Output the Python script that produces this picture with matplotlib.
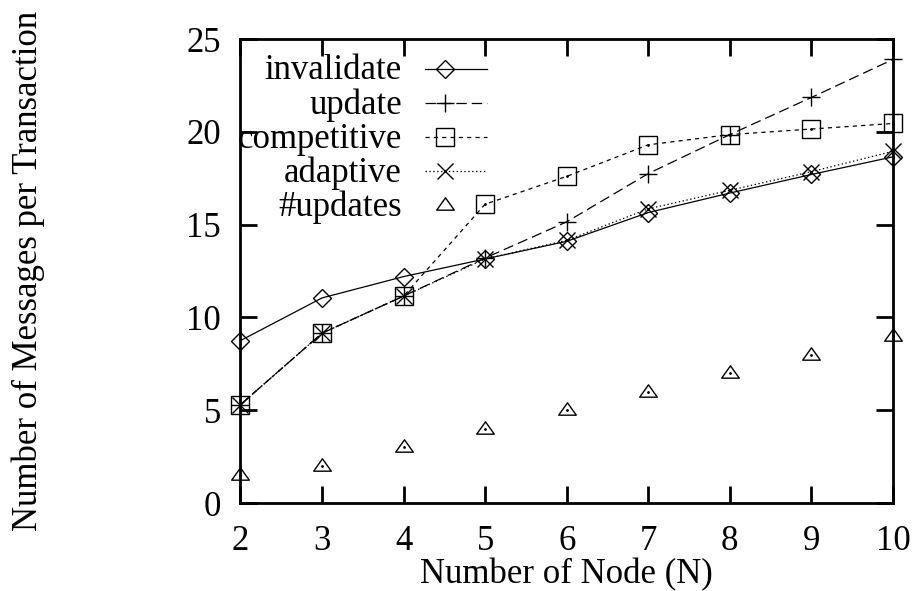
import matplotlib
matplotlib.use("Agg")
import matplotlib.pyplot as plt
from matplotlib.path import Path

# Number of nodes
nodes = [2, 3, 4, 5, 6, 7, 8, 9, 10]

# Messages per transaction for each protocol
invalidate = [8.75, 11.05, 12.2, 13.15, 14.1, 15.65, 16.7, 17.7, 18.65]
update = [5.3, 9.15, 11.15, 13.2, 15.15, 17.75, 19.85, 21.85, 23.9]
competitive = [5.3, 9.15, 11.15, 16.1, 17.6, 19.3, 19.85, 20.15, 20.45]
adaptive = [5.3, 9.15, 11.15, 13.15, 14.15, 15.85, 16.85, 17.85, 18.95]
num_updates = [1.5, 2, 3, 4, 5, 6, 7, 8, 9]

series_labels = ["invalidate", "update", "competitive", "adaptive", "#updates"]
xticks = [2, 3, 4, 5, 6, 7, 8, 9, 10]
yticks = [0, 5, 10, 15, 20, 25]

plt.rcParams["font.family"] = ["Liberation Serif", "DejaVu Serif"]
plt.rcParams["lines.scale_dashes"] = False

FS = 25
fig = plt.figure(figsize=(9.14, 5.91), dpi=100)
ax = fig.add_axes([0.2631, 0.1489, 0.977 - 0.2631, 0.934 - 0.1489])

# open triangle whose reference point sits below its centre
tri = Path([(0.0, 7.7), (-8.85, -4.7), (8.85, -4.7), (0.0, 7.7)],
           [Path.MOVETO, Path.LINETO, Path.LINETO, Path.CLOSEPOLY])

lw = 0.9
mew = 1.0
styles = [
    dict(marker="D", ms=8.8, ls="-"),
    dict(marker="+", ms=12.5, dashes=(7.5, 3.6)),
    dict(marker="s", ms=12.5, dashes=(3.0, 3.0)),
    dict(marker="x", ms=11.5, dashes=(1.0, 1.8)),
    dict(marker=tri, ms=12.7, ls="none"),
]
data = [invalidate, update, competitive, adaptive, num_updates]

for vals, st in zip(data, styles):
    ax.plot(nodes, vals, color="black", lw=lw, mew=mew, mfc="none",
            mec="black", clip_on=False, zorder=5, **st)
# small centre dots of the square and triangle points
for vals in (competitive, num_updates):
    ax.plot(nodes, vals, ls="none", marker="o", ms=1.0, color="black",
            clip_on=False, zorder=6)

ax.set_xlim(2, 10)
ax.set_ylim(0, 25)
ax.set_xticks(xticks)
ax.set_yticks(yticks)
ax.tick_params(direction="in", length=12, width=2.0, labelsize=FS,
               top=True, right=True)
ax.tick_params(axis="x", pad=16)
ax.tick_params(axis="y", pad=14)
for sp in ax.spines.values():
    sp.set_linewidth(2.0)

ax.set_xlabel("Number of Node (N)", fontsize=FS)
ax.set_ylabel("Number of Messages per Transaction", fontsize=FS)
ax.xaxis.set_label_coords(0.5, -0.118)
ax.yaxis.set_label_coords(-0.30, 0.5)

# key in the upper left corner: label, then sample line with point
row_top = 0.9364
row_step = 0.0737
text_right = 0.2475
line_x = (0.283, 0.378)
mark_x = 0.313
for i, (lab, st) in enumerate(zip(series_labels, styles)):
    y = row_top - i * row_step
    ax.text(text_right, y - 0.0235, lab, transform=ax.transAxes,
            ha="right", va="baseline", fontsize=FS, zorder=7)
    kw = {k: v for k, v in st.items() if k not in ("marker", "ms")}
    if st.get("ls") != "none":
        ax.plot(line_x, (y, y), color="black", lw=lw, transform=ax.transAxes,
                clip_on=False, zorder=7, **kw)
    ax.plot([mark_x], [y], color="black", marker=st["marker"], ms=st["ms"],
            mew=mew, mfc="none", ls="none", transform=ax.transAxes,
            clip_on=False, zorder=7)

fig.savefig("out.png", dpi=100)
